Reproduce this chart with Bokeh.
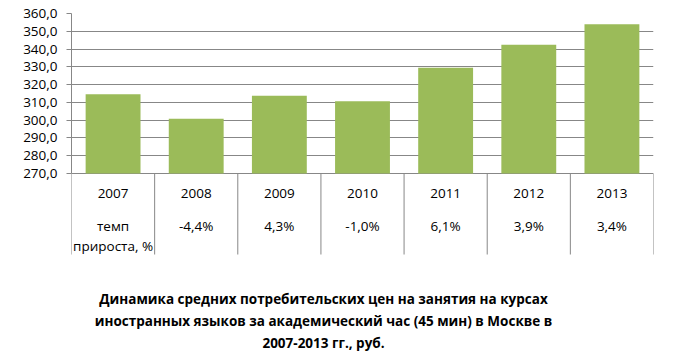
from bokeh.plotting import figure
from bokeh.models import ColumnDataSource, FixedTicker, Range1d
from bokeh.core.properties import value
from bokeh.embed import file_html
from bokeh.resources import INLINE

# ---- data ----
years = ["2007", "2008", "2009", "2010", "2011", "2012", "2013"]
prices = [314.6, 300.8, 313.7, 310.6, 329.5, 342.4, 354.0]
growth = ["", "-4,4%", "4,3%", "-1,0%", "6,1%", "3,9%", "3,4%"]
growth_label = ["темп", "прироста, %"]
y_ticks = [270, 280, 290, 300, 310, 320, 330, 340, 350, 360]
y_tick_labels = ["270,0", "280,0", "290,0", "300,0", "310,0", "320,0", "330,0", "340,0", "350,0", "360,0"]
title_lines = [
    "Динамика средних потребительских цен на занятия на курсах",
    "иностранных языков за академический час (45 мин) в Москве в",
    "2007-2013 гг., руб.",
]

# ---- layout ----
W, H = 673, 352
TOP, LEFT, RIGHT = 13, 71, 20
Y0, Y1 = 270, 360
AXIS_PX = 173  # pixel row of the 270 line
PX_PER_UNIT = (AXIS_PX - TOP) / (Y1 - Y0)


def py(pixel_y):
    """pixel row -> data y"""
    return Y0 - (pixel_y - AXIS_PX) / PX_PER_UNIT


y_start = py(H)
FONT = "Open Sans"
GREY = "#878787"

p = figure(width=W, height=H, output_backend="svg", toolbar_location=None,
           x_range=Range1d(0, len(years)), y_range=Range1d(y_start, Y1),
           x_axis_location=None, min_border_left=LEFT, min_border_right=RIGHT,
           min_border_top=TOP, min_border_bottom=0)
p.outline_line_color = None
p.background_fill_color = "white"
p.border_fill_color = "white"
p.xgrid.visible = False

p.ygrid.ticker = FixedTicker(ticks=y_ticks)
p.ygrid.grid_line_color = GREY
p.ygrid.grid_line_width = 1

ax = p.yaxis[0]
ax.ticker = FixedTicker(ticks=y_ticks)
ax.major_label_overrides = {t: l for t, l in zip(y_ticks, y_tick_labels)}
ax.bounds = (Y0, Y1)
ax.axis_line_color = GREY
ax.major_tick_line_color = GREY
ax.major_tick_out = 5
ax.major_tick_in = 0
ax.minor_tick_line_color = None
ax.major_label_standoff = 9
ax.major_label_text_font = FONT
ax.major_label_text_font_size = "13.5px"
ax.major_label_text_color = "black"

centers = [i + 0.5 for i in range(len(years))]
src = ColumnDataSource(dict(x=centers, top=prices, years=years, growth=growth))
p.vbar(x="x", top="top", bottom=Y0, width=0.66, source=src,
       fill_color="#9BBB59", line_color=None)

# table borders
table_bottom = py(254)
xs = list(range(len(years) + 1))
p.segment(x0=xs, y0=[table_bottom] * len(xs), x1=xs, y1=[Y0] * len(xs),
          line_color=GREY, line_width=1)

text_kw = dict(text_font=value(FONT), text_font_size="13.5px", text_color="black",
               text_align="center", text_baseline="middle")
p.text(x="x", y=py(193), text="years", source=src, **text_kw)
p.text(x="x", y=py(225), text="growth", source=src, **text_kw)
p.text(x=[centers[0]] * 2, y=[py(225), py(245)], text=growth_label, **text_kw)

# title
title_x = (323 - LEFT) / ((W - LEFT - RIGHT) / len(years))
p.text(x=[title_x] * 3, y=[py(298), py(320), py(342)], text=title_lines,
       text_font=value(FONT), text_font_size="13.5px", text_font_style="bold",
       text_color="black", text_align="center", text_baseline="middle")

open("out.html", "w").write(file_html(p, INLINE))
